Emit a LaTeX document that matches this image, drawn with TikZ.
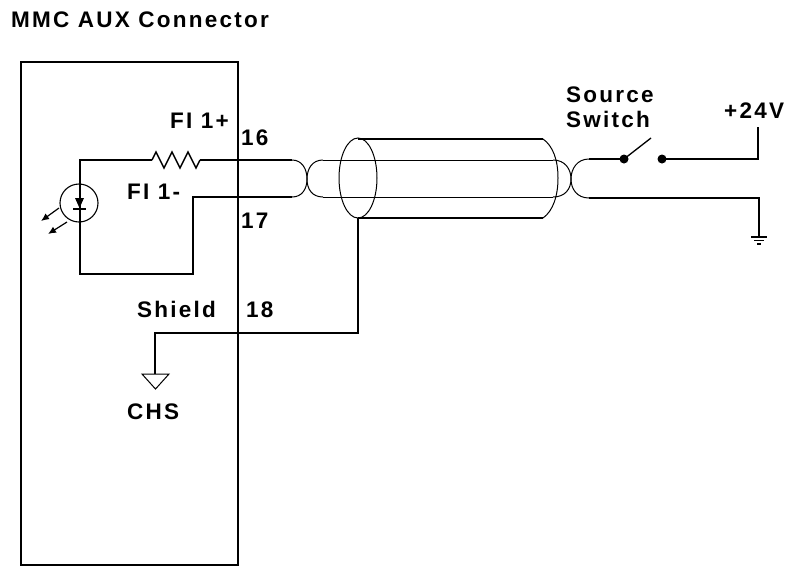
\documentclass[tikz,border=0pt]{standalone}
\usepackage{fontspec}
\newfontfamily\lblfont{Liberation Sans Bold}[LetterSpace=10]
\usetikzlibrary{arrows.meta,shapes.geometric}
\begin{document}
\begin{tikzpicture}[x=1pt,y=-1pt,
  lbl/.style={font=\lblfont\fontsize{22.5}{25}\selectfont, inner sep=0pt, anchor=base west},
  wire/.style={line width=1.8pt},
  thin/.style={line width=1pt},
  led/.style={line width=1.2pt, -{Latex[length=8pt,width=7pt]}}]
\useasboundingbox (0,0) rectangle (787,574);
% labels
\node[lbl] (title) at (11,27) {MMC AUX Connector};
\node[lbl] (fip) at (170,128) {FI 1+};
\node[lbl] (p16) at (241,145) {16};
\node[lbl] (fim) at (127,199) {FI 1-};
\node[lbl] (p17) at (241,228) {17};
\node[lbl] (shl) at (137,317) {Shield};
\node[lbl] (p18) at (246,317) {18};
\node[lbl] (chs) at (127,419) {CHS};
\node[lbl] (src) at (566,102) {Source};
\node[lbl] (sw) at (566,127) {Switch};
\node[lbl] (v24) at (724,118) {+24V};
% connector box
\coordinate (bxa) at (21,62);
\coordinate (bxb) at (238,565);
\draw[wire] (bxa) rectangle (bxb);
% LED input circuit
\coordinate (la) at (80,160);
\coordinate (lb) at (80,274);
\coordinate (lc) at (193,274);
\coordinate (ld) at (193,197);
\coordinate (le) at (292,197);
\coordinate (ra) at (152,160);
\coordinate (rb) at (200,160);
\coordinate (rc) at (292,160);
\draw[wire] (ra) -- (la) -- (lb) -- (lc) -- (ld) -- (le);
\draw[line width=1.4pt] (ra) -- (156,152) -- (164,168) -- (172,152) -- (180,168) -- (188,152) -- (196,168) -- (rb);
\draw[wire] (rb) -- (rc);
\node[draw, circle, line width=1.1pt, minimum size=38pt, inner sep=0pt] (ledc) at (79,203) {};
\fill (75,198) -- (84,198) -- (79.5,208) -- cycle;
\draw[line width=1.6pt] (73,209) -- (86,209);
\coordinate (a1s) at (59,208); \coordinate (a1e) at (41,221);
\coordinate (a2s) at (67,222); \coordinate (a2e) at (48,234);
\draw[led] (a1s) -- (a1e);
\draw[led] (a2s) -- (a2e);
% twisted pair, left
\coordinate (tl) at (307,179);
\draw[thin] (rc) .. controls (302,160) and (307,169) .. (tl) .. controls (307,189) and (302,197) .. (le);
\coordinate (ua) at (323,160);
\coordinate (ub) at (323,197);
\draw[thin] (ua) .. controls (312,160) and (307,169) .. (tl) .. controls (307,189) and (312,197) .. (ub);
% inner wires
\coordinate (uc) at (553,160);
\coordinate (ud) at (553,197);
\draw[thin] (ua) -- (uc);
\draw[thin] (ub) -- (ud);
% twisted pair, right
\coordinate (tr) at (571,179);
\coordinate (ue) at (589,159);
\coordinate (uf) at (589,198);
\draw[thin] (uc) .. controls (565,160) and (571,169) .. (tr) .. controls (571,189) and (565,197) .. (ud);
\draw[thin] (ue) .. controls (577,159) and (571,169) .. (tr) .. controls (571,189) and (577,198) .. (uf);
% shield
\node[draw, ellipse, line width=1pt, minimum width=38pt, minimum height=80pt, inner sep=0pt] (shell) at (358,178) {};
\coordinate (sa) at (358,139);
\coordinate (sb) at (543,139);
\coordinate (sc) at (358,218);
\coordinate (sd) at (543,218);
\draw[line width=1.6pt] (sa) -- (sb);
\draw[line width=1.6pt] (sc) -- (sd);
\draw[line width=1pt] (sb) .. controls (553,146) and (558,160) .. (558,178) .. controls (558,196) and (553,211) .. (sd);
% drain to chassis
\coordinate (dr) at (358,333);
\coordinate (dl) at (155,333);
\coordinate (dg) at (155,374);
\draw[wire] (sc) -- (dr) -- (dl) -- (dg);
\draw[line width=1pt] (142,374) -- (169,374) -- (155.5,389) -- cycle;
% switch and supply
\coordinate (s1) at (624,159);
\coordinate (s2) at (662,159);
\coordinate (sarm) at (651,138);
\coordinate (vp) at (758,159);
\coordinate (vt) at (758,127);
\draw[wire] (ue) -- (s1);
\fill (s1) circle (4.5pt);
\fill (s2) circle (4.5pt);
\draw[line width=1.3pt] (s1) -- (sarm);
\draw[wire] (s2) -- (vp) -- (vt);
\coordinate (gp) at (759,198);
\coordinate (gt) at (759,237);
\draw[wire] (uf) -- (gp) -- (gt);
\draw[line width=1.4pt] (751,237) -- (767,237);
\draw[line width=1.2pt] (754,240.5) -- (764,240.5);
\draw[line width=1.2pt] (757,244) -- (761,244);
\end{tikzpicture}
\end{document}
